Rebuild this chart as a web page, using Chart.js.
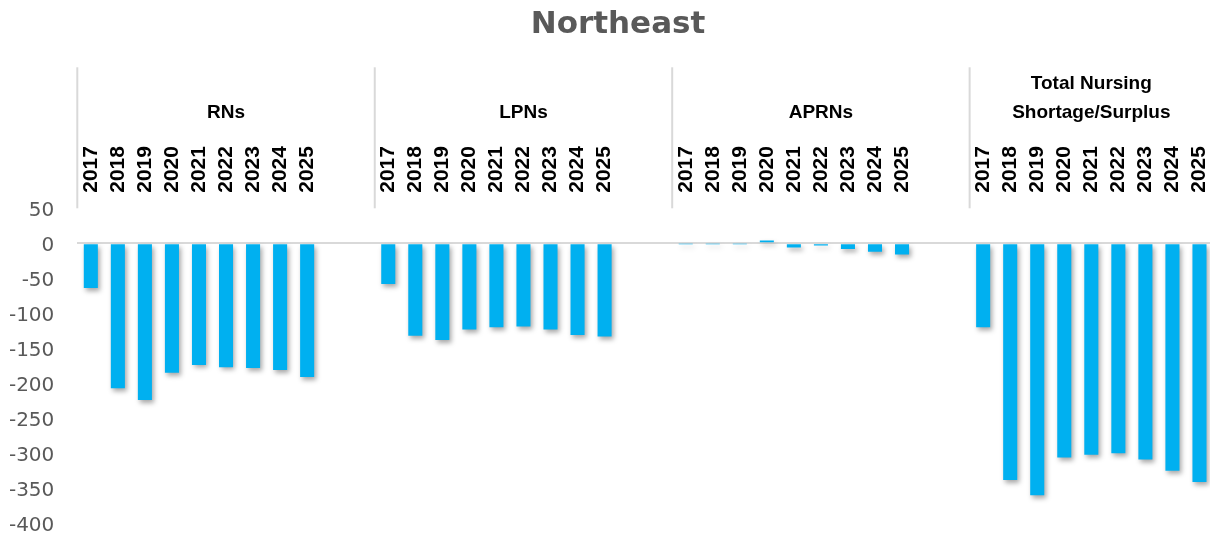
<!DOCTYPE html>
<html>
<head>
<meta charset="utf-8">
<title>Northeast</title>
<script src="https://cdn.jsdelivr.net/npm/chart.js@4.4.0/dist/chart.umd.min.js"></script>
<style>
  html, body { margin: 0; padding: 0; background: #fff; overflow: hidden; }
  #wrap { width: 1213px; height: 535px; }
</style>
</head>
<body>
<div id="wrap"><canvas id="regionChart"></canvas></div>
<script>
const chartTitle = 'Northeast';
const years = ['2017', '2018', '2019', '2020', '2021', '2022', '2023', '2024', '2025'];
const groupNames = [['RNs'], ['LPNs'], ['APRNs'], ['Total Nursing', 'Shortage/Surplus']];

const rnValues = [-64, -207, -224, -185, -174, -177, -178, -181, -191];
const lpnValues = [-58, -132, -138, -123, -120, -119, -123, -131, -133];
const aprnValues = [-0.5, -0.5, -0.5, 4, -6, -3, -8, -12, -16];
const totalValues = [-120, -338, -360, -306, -302, -300, -309, -325, -341];

const yTicks = [50, 0, -50, -100, -150, -200, -250, -300, -350, -400];
const blankSlots = 2; // empty categories after each group except the last

// flatten groups into one category axis
const labels = [];
const values = [];
const groupRanges = [];
[rnValues, lpnValues, aprnValues, totalValues].forEach((series, g, all) => {
    const start = labels.length;
    years.forEach((year, i) => {
        labels.push(year);
        values.push(series[i]);
    });
    if (g < all.length - 1) {
        for (let k = 0; k < blankSlots; k++) {
            labels.push('');
            values.push(null);
        }
    }
    groupRanges.push({ start: start, end: labels.length - 1 });
});

const barShadowPlugin = {
    id: 'barShadow',
    beforeDatasetsDraw(chart) {
        const c = chart.ctx;
        c.save();
        c.shadowColor = 'rgba(0, 0, 0, 0.35)';
        c.shadowBlur = 5;
        c.shadowOffsetX = 2;
        c.shadowOffsetY = 3;
    },
    afterDatasetsDraw(chart) {
        chart.ctx.restore();
    }
};

// title + group row of the multi-level category axis
const groupAxisPlugin = {
    id: 'groupAxis',
    afterDraw(chart) {
        const x = chart.scales.x;
        const c = chart.ctx;
        const slot = x.getPixelForValue(1) - x.getPixelForValue(0);
        const top = chart.chartArea.top;
        c.save();

        c.font = 'bold 31px "DejaVu Sans"';
        c.fillStyle = '#595959';
        c.textAlign = 'center';
        c.textBaseline = 'alphabetic';
        c.fillText(chartTitle, 618, 33);

        groupRanges.forEach((r, g) => {
            const left = x.getPixelForValue(r.start) - slot / 2;
            const right = x.getPixelForValue(r.end) + slot / 2;

            c.strokeStyle = '#d9d9d9';
            c.lineWidth = 2;
            c.beginPath();
            c.moveTo(left, top - 141);
            c.lineTo(left, top);
            c.stroke();

            c.font = 'bold 19px "Liberation Sans"';
            c.fillStyle = '#000';
            const lines = groupNames[g];
            lines.forEach((line, i) => {
                c.fillText(line, (left + right) / 2, top - 90 - (lines.length - 1 - i) * 29);
            });
        });
        c.restore();
    }
};

const ctx = document.getElementById('regionChart').getContext('2d');
new Chart(ctx, {
    type: 'bar',
    data: {
        labels: labels,
        datasets: [{
            data: values,
            backgroundColor: '#00B0F0',
            categoryPercentage: 1,
            barPercentage: 0.52
        }]
    },
    options: {
        responsive: true,
        maintainAspectRatio: false,
        animation: false,
        layout: { padding: { top: 40, right: 0, bottom: 11.7, left: 0 } },
        plugins: {
            legend: { display: false },
            tooltip: { enabled: false },
            title: { display: false }
        },
        scales: {
            x: {
                position: 'top',
                offset: true,
                grid: { display: false, drawTicks: false },
                border: { display: false },
                ticks: {
                    autoSkip: false,
                    minRotation: 90,
                    maxRotation: 90,
                    padding: 15.5,
                    labelOffset: 25.2,
                    color: '#000',
                    font: { family: 'Liberation Sans', size: 21, weight: 'bold' }
                },
                afterFit(scale) {
                    scale.height = 168.3;
                    scale.paddingLeft = 0;
                    scale.paddingRight = 0;
                }
            },
            y: {
                min: -400,
                max: 50,
                afterBuildTicks(scale) {
                    scale.ticks = yTicks.slice().sort((a, b) => a - b).map(v => ({ value: v }));
                },
                grid: {
                    drawTicks: true,
                    tickLength: 23,
                    tickColor: 'rgba(0,0,0,0)',
                    color: c => (c.tick && c.tick.value === 0) ? '#d9d9d9' : 'rgba(0,0,0,0)',
                    lineWidth: 2
                },
                border: { display: false },
                ticks: {
                    padding: 0,
                    labelOffset: 2.5,
                    color: '#595959',
                    font: { family: 'DejaVu Sans', size: 20, lineHeight: 0.6 }
                },
                afterFit(scale) { scale.width = 77.3; }
            }
        }
    },
    plugins: [barShadowPlugin, groupAxisPlugin]
});
</script>
</body>
</html>
